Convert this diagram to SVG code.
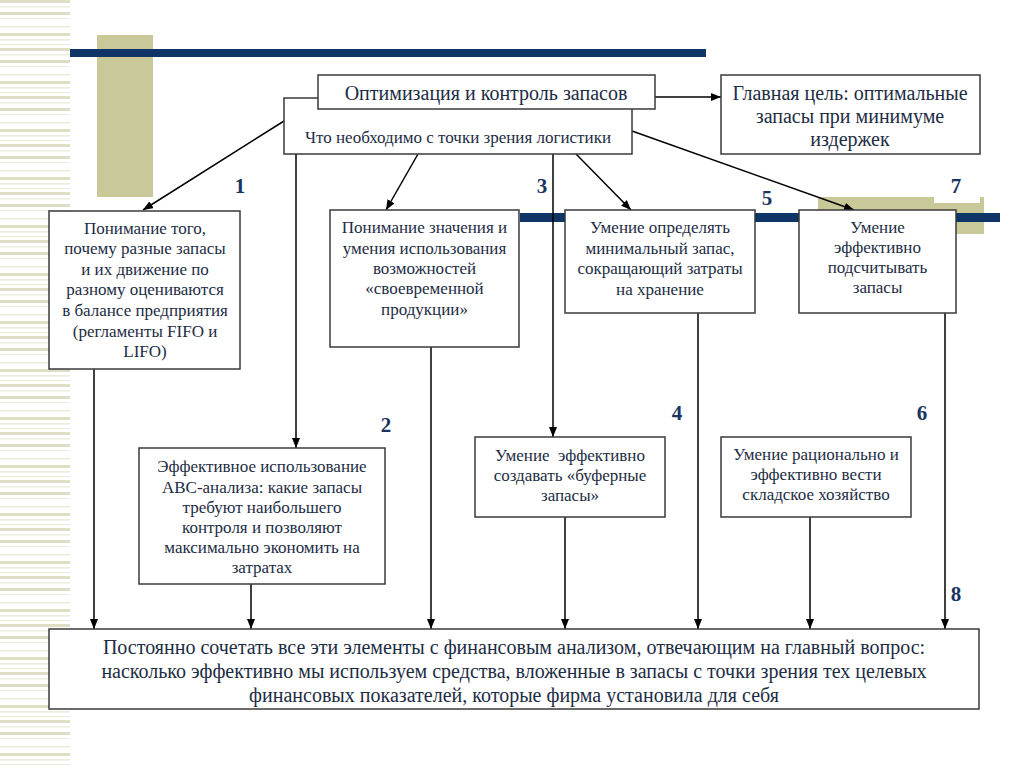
<svg xmlns="http://www.w3.org/2000/svg" width="1024" height="767" viewBox="0 0 1024 767">
<defs>
<style>
.box{fill:#fff;stroke:#3a3a3a;stroke-width:1.5}
.t{font-family:"Liberation Serif","Times New Roman",serif;fill:#1c2c44;text-anchor:middle}
.s{font-size:17px}
.m{font-size:20px}
.num{font-family:"Liberation Serif","Times New Roman",serif;font-weight:bold;font-size:21px;fill:#1a3461;text-anchor:middle}
.c{fill:none;stroke:#000;stroke-width:1.5}
.a{marker-end:url(#ah)}
</style>
<marker id="ah" markerUnits="userSpaceOnUse" markerWidth="10" markerHeight="8" refX="10" refY="4" orient="auto">
<path d="M0,0 L10,4 L0,8 z" fill="#000"/>
</marker>
<pattern id="stripes" x="0" y="0" width="70" height="48" patternUnits="userSpaceOnUse">
<rect x="0" y="0" width="70" height="3" fill="#dedec4"/>
<rect x="0" y="6" width="70" height="1.5" fill="#ececdc"/>
<rect x="0" y="12" width="70" height="3" fill="#dedec4"/>
<rect x="0" y="18" width="70" height="1" fill="#ececdc"/>
<rect x="0" y="26" width="70" height="1.5" fill="#ececdc"/>
<rect x="0" y="33" width="70" height="3" fill="#dedec4"/>
<rect x="0" y="39" width="70" height="1.5" fill="#ececdc"/>
<rect x="0" y="44" width="70" height="1" fill="#ececdc"/>
</pattern>
</defs>
<rect width="1024" height="767" fill="#fff"/>
<g id="background">
<rect x="0" y="0" width="70" height="767" fill="url(#stripes)"/>
<rect x="97" y="35" width="56" height="162" fill="#c8c899"/>
<rect x="70" y="49" width="636" height="8" fill="#0f3566"/>
<rect x="818" y="197" width="166" height="37" fill="#c8c899"/>
<rect x="934" y="194" width="46" height="9" fill="#fff"/>
<rect x="520" y="213" width="480" height="9" fill="#0f3566"/>
</g>
<g id="connectors">
<path class="c a" d="M655,97 H721"/>
<path class="c a" d="M284,121 L143,210"/>
<path class="c a" d="M296,154 V448"/>
<path class="c a" d="M418,154 L386,210"/>
<path class="c a" d="M553,154 V437"/>
<path class="c a" d="M576,154 L631,210"/>
<path class="c a" d="M632,131 L854,210"/>
<path class="c a" d="M94,369 V629"/>
<path class="c a" d="M251,584 V629"/>
<path class="c a" d="M431,347 V629"/>
<path class="c a" d="M565,517 V629"/>
<path class="c a" d="M698,313 V629"/>
<path class="c a" d="M810,517 V629"/>
<path class="c a" d="M945,313 V629"/>
</g>
<g id="labels">
<text class="num" x="240" y="193">1</text>
<text class="num" x="386" y="432">2</text>
<text class="num" x="542" y="193">3</text>
<text class="num" x="677" y="420">4</text>
<text class="num" x="767" y="205">5</text>
<text class="num" x="922" y="420">6</text>
<text class="num" x="956" y="193">7</text>
<text class="num" x="956" y="601">8</text>
</g>
<g id="n-need">
<rect class="box" x="284" y="98" width="348" height="56"/>
<text class="t" x="458" y="143" style="font-size:17px">Что необходимо с точки зрения логистики</text>
</g>
<g id="n-title">
<rect class="box" x="318" y="75" width="337" height="34"/>
<text class="t m" x="486" y="100">Оптимизация и контроль запасов</text>
</g>
<g id="n-goal">
<rect class="box" x="721" y="75" width="259" height="79"/>
<text class="t m" x="850" y="100">Главная цель: оптимальные</text>
<text class="t m" x="850" y="123">запасы при минимуме</text>
<text class="t m" x="850" y="146">издержек</text>
</g>
<g id="n1">
<rect class="box" x="49" y="211" width="191" height="158"/>
<text class="t s" x="145" y="234">Понимание того,</text>
<text class="t s" x="145" y="254">почему разные запасы</text>
<text class="t s" x="145" y="275">и их движение по</text>
<text class="t s" x="145" y="295">разному оцениваются</text>
<text class="t s" x="145" y="316">в балансе предприятия</text>
<text class="t s" x="145" y="337">(регламенты FIFO и</text>
<text class="t s" x="145" y="357">LIFO)</text>
</g>
<g id="n3">
<rect class="box" x="330" y="210" width="189" height="137"/>
<text class="t s" x="424.5" y="233">Понимание значения и</text>
<text class="t s" x="424.5" y="254">умения использования</text>
<text class="t s" x="424.5" y="274">возможностей</text>
<text class="t s" x="424.5" y="294">«своевременной</text>
<text class="t s" x="424.5" y="315">продукции»</text>
</g>
<g id="n5">
<rect class="box" x="565" y="210" width="190" height="103"/>
<text class="t s" x="660" y="233">Умение определять</text>
<text class="t s" x="660" y="254">минимальный запас,</text>
<text class="t s" x="660" y="274">сокращающий затраты</text>
<text class="t s" x="660" y="295">на хранение</text>
</g>
<g id="n7">
<rect class="box" x="799" y="210" width="157" height="103"/>
<text class="t s" x="877.5" y="233">Умение</text>
<text class="t s" x="877.5" y="253">эффективно</text>
<text class="t s" x="877.5" y="273">подсчитывать</text>
<text class="t s" x="877.5" y="293">запасы</text>
</g>
<g id="n2">
<rect class="box" x="139" y="448" width="246" height="136"/>
<text class="t s" x="262" y="472">Эффективное использование</text>
<text class="t s" x="262" y="493">ABC-анализа: какие запасы</text>
<text class="t s" x="262" y="513">требуют наибольшего</text>
<text class="t s" x="262" y="533">контроля и позволяют</text>
<text class="t s" x="262" y="553">максимально экономить на</text>
<text class="t s" x="262" y="573">затратах</text>
</g>
<g id="n4">
<rect class="box" x="475" y="437" width="190" height="80"/>
<text class="t s" x="570" y="461" xml:space="preserve">Умение  эффективно</text>
<text class="t s" x="570" y="481">создавать «буферные</text>
<text class="t s" x="570" y="501">запасы»</text>
</g>
<g id="n6">
<rect class="box" x="721" y="437" width="190" height="80"/>
<text class="t s" x="816" y="460">Умение рационально и</text>
<text class="t s" x="816" y="480">эффективно вести</text>
<text class="t s" x="816" y="500">складское хозяйство</text>
</g>
<g id="n8">
<rect class="box" x="49" y="629" width="930" height="80"/>
<text class="t m" x="514" y="654">Постоянно сочетать все эти элементы с финансовым анализом, отвечающим на главный вопрос:</text>
<text class="t m" x="514" y="678">насколько эффективно мы используем средства, вложенные в запасы с точки зрения тех целевых</text>
<text class="t m" x="514" y="702">финансовых показателей, которые фирма установила для себя</text>
</g>
</svg>
